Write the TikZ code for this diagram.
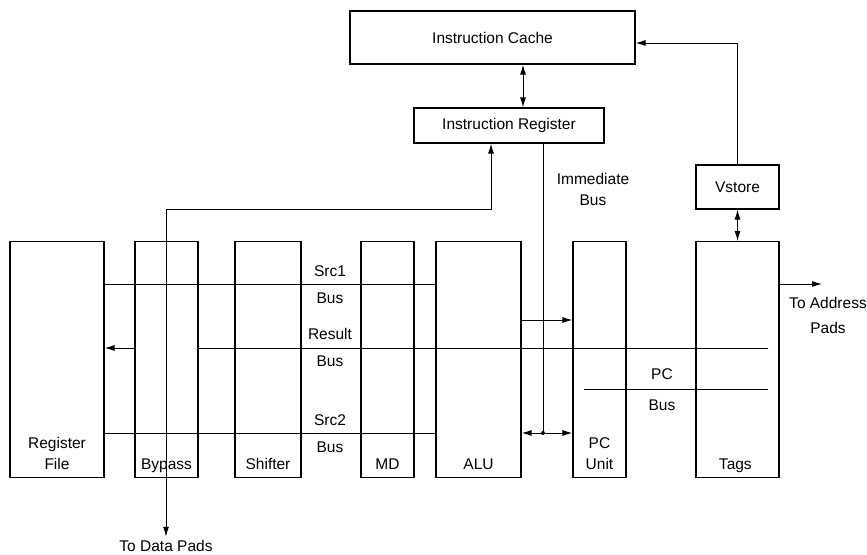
\documentclass[tikz,border=0pt]{standalone}
\usepackage{fontspec}
\setmainfont{Liberation Sans}
\usetikzlibrary{arrows.meta}

\begin{document}
\begin{tikzpicture}[
    x=1pt, y=-1pt,
    font=\fontsize{15.5}{21}\selectfont,
    % Estilo de las cajas
    unit box/.style={draw, line width=1.2pt, inner sep=0pt},
    % Columnas del camino de datos
    column box/.style={unit box, anchor=north, minimum height=236},
    % Texto al pie de cada columna
    column label/.style={anchor=south, align=center, inner sep=0pt, text depth=4pt, yshift=5pt},
    % Etiquetas de los buses
    bus label/.style={inner sep=0pt, text height=11pt, text depth=0pt},
    % Lineas y flechas
    bus line/.style={line width=1pt},
    one way/.style={bus line, -{Latex[length=10pt, width=6pt]}},
    two way/.style={bus line, {Latex[length=10pt, width=6pt]}-{Latex[length=10pt, width=6pt]}}
]
    % Marco con las proporciones de la figura
    \useasboundingbox (0,0) rectangle (867,554);

    % Alturas de los buses
    \def\ysrcone{284}   % Src1
    \def\yaluout{320}   % salida de la ALU
    \def\yresult{348}   % Result
    \def\ypcbus{389}    % PC
    \def\ysrctwo{433}   % Src2

    \coordinate (src1) at (0,\ysrcone);
    \coordinate (aluout) at (0,\yaluout);
    \coordinate (result) at (0,\yresult);
    \coordinate (src2) at (0,\ysrctwo);

    % Cajas superiores
    \node[unit box, minimum width=285, minimum height=53] (cache) at (492.5,37.5) {Instruction Cache};
    \node[unit box, minimum width=190, minimum height=35] (ireg) at (509,125.5) {Instruction Register};
    \node[unit box, minimum width=83, minimum height=44] (vstore) at (737.5,187) {Vstore};

    % Columnas: {nombre / centro x / ancho / texto}
    \foreach \name/\cx/\w/\txt in {
        regfile/57/94/{Register\\File},
        bypass/166.5/63/Bypass,
        shifter/268/66/Shifter,
        md/387.5/53/MD,
        alu/478.5/85/ALU,
        pcunit/599.5/53/{PC\\Unit},
        tags/737.5/83/Tags
    }{
        \node[column box, minimum width=\w] (\name) at (\cx,241) {};
        \node[column label] (\name-text) at (\name.south) {\txt};
    }

    % Buses horizontales
    \draw[bus line] (regfile.east |- src1) -- (alu.west |- src1);
    \draw[bus line] (regfile.east |- src2) -- (alu.west |- src2);
    \coordinate (resend) at (768,\yresult);
    \draw[bus line] (resend) -- (bypass.east |- result);
    \draw[one way] (bypass.west |- result) -- (regfile.east |- result);
    \coordinate (pcstart) at (584,\ypcbus);
    \coordinate (pcend) at (768,\ypcbus);
    \draw[bus line] (pcstart) -- (pcend);
    \draw[one way] (alu.east |- aluout) -- (pcunit.west |- aluout);

    % Bus inmediato desde el registro de instruccion
    \coordinate (imm) at (543,0);
    \draw[bus line] (ireg.south -| imm) -- (imm |- src2);
    \draw[two way] (alu.east |- src2) -- (pcunit.west |- src2);
    \fill (imm |- src2) circle (2pt);

    % Cache <-> registro de instruccion
    \coordinate (irc) at (523,0);
    \draw[two way] (cache.south -| irc) -- (ireg.north -| irc);

    % Camino hacia los pads de datos
    \node (datapads) at (166,546) {To Data Pads};
    \coordinate (irfeed) at (491,209);
    \draw[two way] (datapads.north) |- (irfeed) -- (ireg.south -| irfeed);

    % Vstore hacia la cache y las etiquetas
    \coordinate (cachein) at (0,43);
    \draw[one way] (vstore.north) |- (cache.east |- cachein);
    \draw[two way] (vstore.south) -- (tags.north);

    % Salida a los pads de direccion
    \coordinate (addr) at (822,\ysrcone);
    \draw[one way] (tags.east |- src1) -- (addr);
    \node[align=center] (addrpads) at (828,315) {To Address\\[4pt]Pads};

    % Textos de los buses
    \node[bus label, above=7.5pt] (src1-top) at (330,\ysrcone) {Src1};
    \node[bus label, below=8.5pt] (src1-bot) at (330,\ysrcone) {Bus};
    \node[bus label, above=8.5pt] (result-top) at (330,\yresult) {Result};
    \node[bus label, below=7.5pt] (result-bot) at (330,\yresult) {Bus};
    \node[bus label, above=7.5pt] (src2-top) at (330,\ysrctwo) {Src2};
    \node[bus label, below=8.5pt] (src2-bot) at (330,\ysrctwo) {Bus};
    \node[bus label, above=9.5pt] (pc-top) at (662,\ypcbus) {PC};
    \node[bus label, below=10.5pt] (pc-bot) at (662,\ypcbus) {Bus};
    \node[align=center] (immlabel) at (593,189) {Immediate\\Bus};

\end{tikzpicture}
\end{document}
